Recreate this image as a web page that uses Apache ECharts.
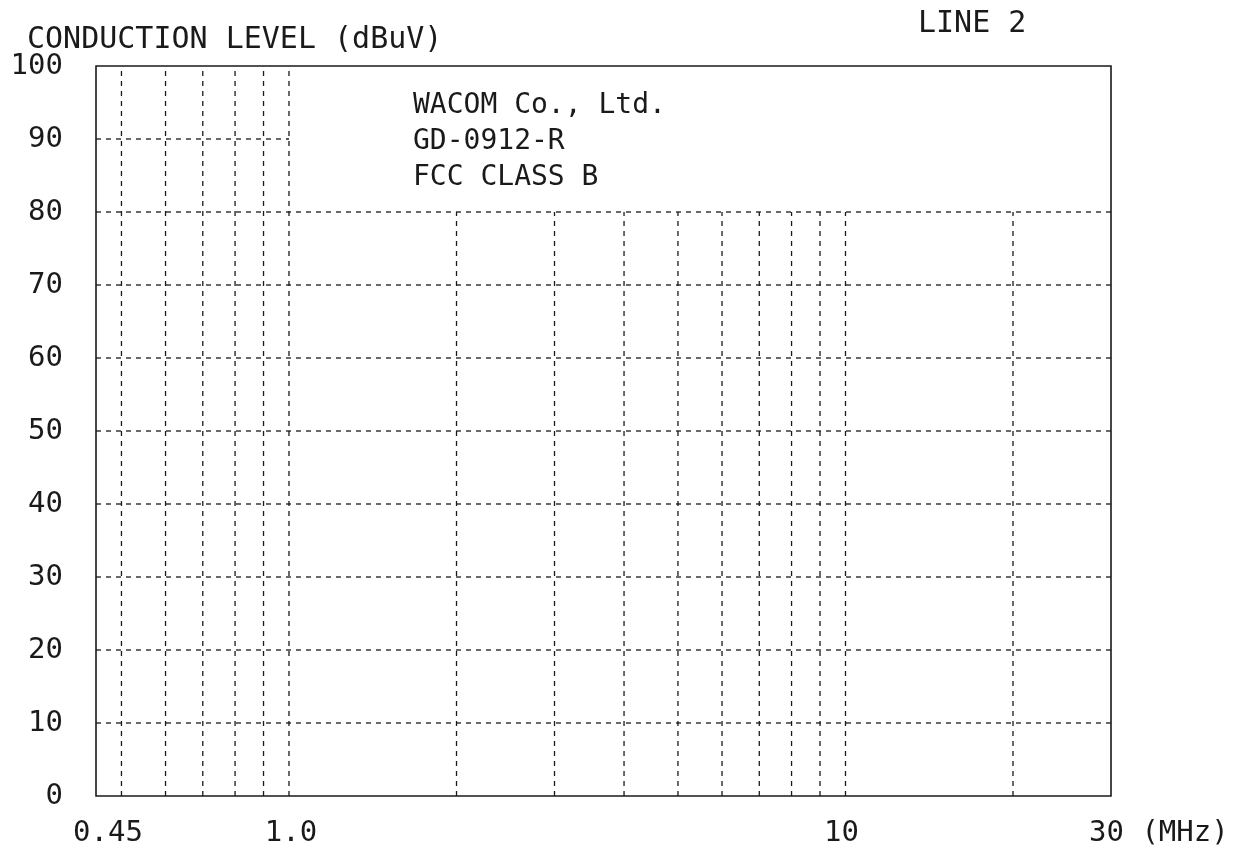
<!DOCTYPE html>
<html>
<head>
<meta charset="utf-8">
<script src="https://cdn.jsdelivr.net/npm/echarts@6/dist/echarts.min.js"></script>
<style>
html,body{margin:0;padding:0;background:#fff;}
#chart{width:1254px;height:858px;}
</style>
</head>
<body>
<div id="chart"></div>
<script>
// ---- data ----
var xMin = 0.45, xMax = 30;
var yMin = 0, yMax = 100, yStep = 10;
var xTickValues = [0.45, 1.0, 10, 30];
var xTickLabels = ['0.45', '1.0', '10', '30 (MHz)'];
var lowFreqLines = [0.5, 0.6, 0.7, 0.8, 0.9, 1.0];      // drawn full height
var highFreqLines = [2, 3, 4, 5, 6, 7, 8, 9, 10, 20];   // drawn up to 80
var highFreqTop = 80;
var fullLevels = [10, 20, 30, 40, 50, 60, 70, 80];      // full width
var shortLevels = [90];                                  // only to 1.0 MHz
var shortLevelEnd = 1.0;
var titleText = 'CONDUCTION LEVEL (dBuV)';
var lineText = 'LINE 2';
var noteLines = ['WACOM Co., Ltd.', 'GD-0912-R', 'FCC CLASS B'];

// ---- styles ----
var FONT = 'DejaVu Sans Mono';
var INK = '#1a1a1a';
var dashStyle = { color: INK, width: 1.3, type: [5, 5] };
var labelOffsets = { '0.45': [12, 0], '1.0': [2, 0], '10': [-4, 0], '30 (MHz)': [-22, 0] };
var labelAligns = { '0.45': 'center', '1.0': 'center', '10': 'center', '30 (MHz)': 'left' };

var series = [];
function gridLine(pts) {
  series.push({
    type: 'line', data: pts, symbol: 'none', silent: true, animation: false,
    lineStyle: dashStyle, z: 1
  });
}
lowFreqLines.forEach(function (f) { gridLine([[f, yMin], [f, yMax]]); });
highFreqLines.forEach(function (f) { gridLine([[f, yMin], [f, highFreqTop]]); });
fullLevels.forEach(function (v) { gridLine([[xMin, v], [xMax, v]]); });
shortLevels.forEach(function (v) { gridLine([[xMin, v], [shortLevelEnd, v]]); });

series.push({
  type: 'scatter', symbolSize: 0, silent: true, animation: false,
  itemStyle: { color: INK, opacity: 1 },
  data: xTickValues.map(function (v, i) {
    var t = xTickLabels[i];
    return {
      value: [v, yMin],
      label: {
        show: true, formatter: t, position: 'inside',
        offset: [labelOffsets[t][0], 37],
        align: labelAligns[t], verticalAlign: 'middle',
        fontFamily: FONT, fontSize: 29, color: INK, opacity: 1,
        textBorderWidth: 0
      }
    };
  })
});

var chart = echarts.init(document.getElementById('chart'));
chart.setOption({
  backgroundColor: '#ffffff',
  animation: false,
  grid: { left: 96, right: 143, top: 66, bottom: 62, show: true, borderColor: INK, borderWidth: 1.6, containLabel: false },
  xAxis: {
    type: 'log', logBase: 10, min: xMin, max: xMax,
    axisLine: { show: false }, axisTick: { show: false }, axisLabel: { show: false }, splitLine: { show: false }
  },
  yAxis: {
    type: 'value', min: yMin, max: yMax, interval: yStep,
    axisLine: { show: false }, axisTick: { show: false }, splitLine: { show: false },
    axisLabel: { margin: 33, fontFamily: FONT, fontSize: 29, color: INK }
  },
  graphic: [
    { type: 'text', left: 27, top: 25, style: { text: titleText, font: '30px "' + FONT + '"', fill: INK } },
    { type: 'text', left: 918, top: 9, style: { text: lineText, font: '30px "' + FONT + '"', fill: INK } },
    { type: 'text', left: 413, top: 88, style: { text: noteLines.join('\n'), font: '28px "' + FONT + '"', fill: INK, lineHeight: 36 } }
  ],
  series: series
});
</script>
</body>
</html>
